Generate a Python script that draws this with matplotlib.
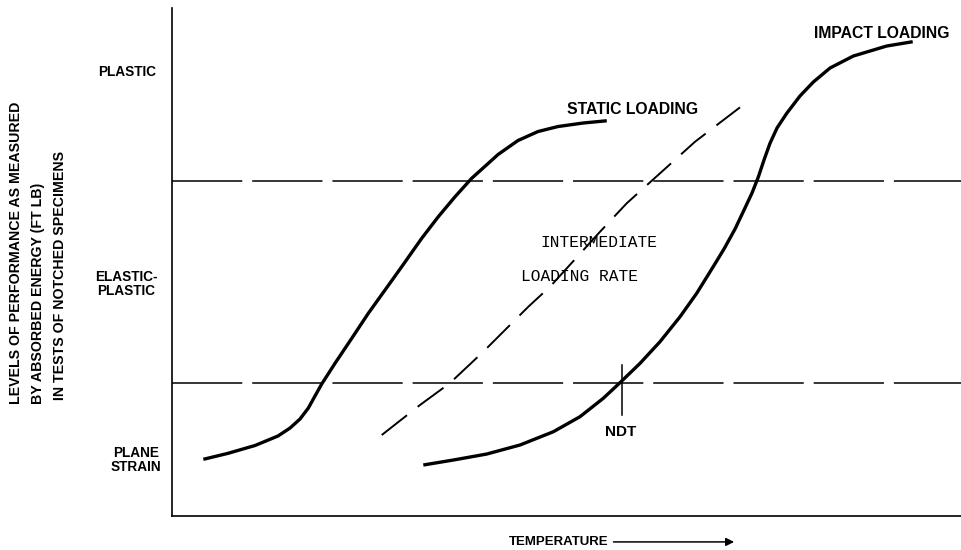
import numpy as np
import matplotlib
import matplotlib.pyplot as plt

matplotlib.use('Agg')
plt.rcParams['font.family'] = ['Liberation Sans', 'DejaVu Sans']

# 数据（温度/性能 均为 0-100 的相对刻度，从图上读取）
static_T = [3.97, 7.10, 10.52, 13.43, 14.96, 16.22, 17.28, 18.12, 18.97, 20.66, 22.78, 24.88, 27.00,
            29.11, 31.65, 33.75, 35.87, 37.98, 40.09, 41.32, 43.85, 46.39, 48.92, 52.09, 55.10]
static_E = [11.16, 12.34, 13.88, 15.75, 17.32, 19.09, 21.26, 23.62, 25.98, 30.06, 34.98, 39.90, 44.49,
            49.07, 54.67, 58.92, 62.85, 66.48, 69.43, 71.16, 73.92, 75.69, 76.67, 77.36, 77.81]

impact_T = [31.85, 35.65, 39.89, 44.11, 48.33, 51.71, 54.66, 56.91, 59.32, 61.85, 64.39, 66.50, 68.57, 69.96,
            71.36, 72.62, 73.51, 74.31, 75.03, 75.79, 76.68, 77.91, 79.59, 81.28, 83.40, 86.35, 90.58, 93.88]
impact_E = [10.04, 11.02, 12.20, 13.98, 16.59, 19.55, 23.17, 26.44, 30.06, 34.31, 39.23, 43.84, 49.02, 52.56,
            56.50, 60.63, 63.58, 66.73, 70.08, 73.37, 76.38, 79.27, 82.68, 85.43, 88.19, 90.55, 92.52, 93.37]

inter_T = [26.58, 31.43, 35.23, 39.45, 45.16, 47.91, 54.25, 57.63, 61.85, 66.29, 71.99]
inter_E = [15.94, 21.85, 26.18, 32.34, 41.20, 45.14, 55.96, 61.56, 67.46, 73.68, 80.45]

level_lines = [65.94, 26.18]   # 塑性/弹塑性、弹塑性/平面应变 分界
ndt_T = 57.0
ndt_E = [19.9, 29.7]

level_names = ['PLASTIC', 'ELASTIC-\nPLASTIC', 'PLANE\nSTRAIN']
level_pos = [87.4, 45.7, 11.0]
level_x = [-5.7, -5.8, -4.6]

fig = plt.figure(figsize=(9.61, 5.5), dpi=100)
ax = fig.add_axes([0.179, 0.0618, 0.821, 0.9236])

ax.plot(static_T, static_E, color='black', lw=2.4, solid_capstyle='butt', solid_joinstyle='round')
ax.plot(impact_T, impact_E, color='black', lw=2.4, solid_capstyle='butt', solid_joinstyle='round')
ax.plot(inter_T, inter_E, color='black', lw=1.4, dashes=(16.5, 7))

for yv in level_lines:
    ax.plot([0, 100], [yv, yv], color='black', lw=1.1, dashes=(46, 6.5))

ax.plot([ndt_T, ndt_T], ndt_E, color='black', lw=1.1)

# 文字标注
big = dict(fontsize=11.3, fontweight='bold', color='black')
lbl = dict(fontsize=9.8, fontweight='bold', color='black')
ax.text(50.06, 80.1, 'STATIC LOADING', ha='left', va='center', **big)
ax.text(81.4, 95.0, 'IMPACT LOADING', ha='left', va='center', **big)
ax.text(56.9, 16.5, 'NDT', ha='center', va='center', fontsize=11, fontweight='bold')
mono = dict(fontsize=11.7, family='Liberation Mono', color='black')
ax.text(46.7, 53.8, 'INTERMEDIATE', ha='left', va='center', **mono)
ax.text(44.2, 47.1, 'LOADING RATE', ha='left', va='center', **mono)

for name, yv, xv in zip(level_names, level_pos, level_x):
    ax.text(xv, yv, name, ha='center', va='center', linespacing=0.95, clip_on=False, **lbl)

ax.text(-17.0, 51.9, 'LEVELS OF PERFORMANCE AS MEASURED\nBY ABSORBED ENERGY (FT LB)\n IN TESTS OF NOTCHED SPECIMENS',
        rotation=90, ha='center', va='center', multialignment='left', linespacing=1.75,
        fontsize=10.2, fontweight='bold', clip_on=False)

ax.text(55.3, -5.1, 'TEMPERATURE', ha='right', va='center', clip_on=False, fontsize=9.5, fontweight='bold')
ax.annotate('', xy=(71.6, -5.1), xytext=(55.6, -5.1), xycoords='data',
            arrowprops=dict(arrowstyle='-|>', color='black', lw=1.1, mutation_scale=12),
            annotation_clip=False)

ax.set_xlim(0, 100)
ax.set_ylim(0, 100)
ax.spines['top'].set_visible(False)
ax.spines['right'].set_visible(False)
ax.spines['left'].set_linewidth(1.2)
ax.spines['bottom'].set_linewidth(1.2)
ax.set_xticks([])
ax.set_yticks([])

plt.savefig('out.png', dpi=100)
plt.close('all')
